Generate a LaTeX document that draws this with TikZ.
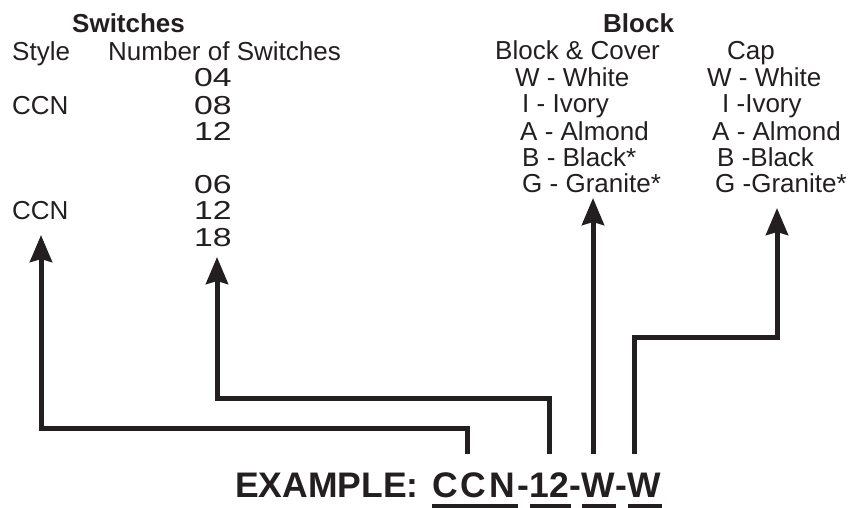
\documentclass[tikz,border=0pt]{standalone}
\usepackage{fontspec}
\setmainfont{Liberation Sans}
\usetikzlibrary{arrows.meta}
\definecolor{ink}{HTML}{231F20}
\newcommand{\wdig}[1]{\scalebox{1.3}[1]{#1}}
\tikzset{
  txt/.style={anchor=base west, inner sep=0pt, text=ink, font=\fontsize{26}{26}\selectfont},
  head/.style={txt, font=\fontsize{26}{26}\selectfont\bfseries},
  ex/.style={anchor=base west, inner sep=0pt, text=ink, font=\fontsize{35.5}{35.5}\selectfont\bfseries},
  conn/.style={draw=ink, line width=5pt, line join=miter, -{Stealth[length=27pt,width=22pt,inset=3pt]}},
  ul/.style={draw=ink, line width=4pt}
}
\begin{document}
\begin{tikzpicture}[x=1pt,y=-1pt]
\useasboundingbox (0,0) rectangle (848,508);
% left block
\node[head] (hsw) at (72,33) {Switches};
\node[txt] (hstyle) at (12,61) {Style};
\node[txt] (hnum) at (108,61) {Number of Switches};
\node[txt] (n04) at (194,87) {\wdig{04}};
\node[txt] (ccna) at (12,114) {CCN};
\node[txt] (n08) at (194,114) {\wdig{08}};
\node[txt] (n12a) at (194,140) {\wdig{12}};
\node[txt] (n06) at (194,193) {\wdig{06}};
\node[txt] (ccnb) at (12,219) {CCN};
\node[txt] (n12b) at (194,219) {\wdig{12}};
\node[txt] (n18) at (194,246) {\wdig{18}};
% right block
\node[head] (hblock) at (603,33) {Block};
\node[txt] (hbc) at (495,60) {Block \& Cover};
\node[txt] (hcap) at (727,60) {Cap};
\node[txt] (bw) at (515,87) {W - White};
\node[txt] (bi) at (522,113) {I - Ivory};
\node[txt] (ba) at (520,140) {A - Almond};
\node[txt] (bb) at (522,166) {B - Black*};
\node[txt] (bg) at (522,192) {G - Granite*};
\node[txt] (cw) at (707,87) {W - White};
\node[txt] (ci) at (722,113) {I -Ivory};
\node[txt] (ca) at (712,140) {A - Almond};
\node[txt] (cb) at (717,166) {B -Black};
\node[txt] (cg) at (715,192) {G -Granite*};
% example
\node[ex] (exl) at (235,497) {EXAMPLE:};
\node[ex] (eccn) at (432,497) {C\hspace{3pt}C\hspace{3pt}N};
\node[ex] (eh1) at (eccn.base east) [xshift=2pt] {-};
\node[ex] (e12) at (eh1.base east) {12};
\node[ex] (eh2) at (e12.base east) {-};
\node[ex] (ew1) at (eh2.base east) {W};
\node[ex] (eh3) at (ew1.base east) {-};
\node[ex] (ew2) at (eh3.base east) {W};
\draw[ul] ([yshift=-9pt]eccn.base west) -- ([xshift=3pt,yshift=-9pt]eccn.base east);
\draw[ul] ([yshift=-9pt]e12.base west) -- ([xshift=2pt,yshift=-9pt]e12.base east);
\draw[ul] ([yshift=-9pt]ew1.base west) -- ([yshift=-9pt]ew1.base east);
\draw[ul] ([yshift=-9pt]ew2.base west) -- ([yshift=-9pt]ew2.base east);
% connector ends
\coordinate (s1) at (467,454);
\coordinate (s2) at (549,454);
\coordinate (s3) at (593,454);
\coordinate (s4) at (634,454);
\coordinate (t1) at (41,235);
\coordinate (t2) at (217,257);
\coordinate (t3) at (593,198);
\coordinate (t4) at (777,208);
\draw[conn] (s1) -- (467,428) -- (41,428) -- (t1);
\draw[conn] (s2) -- (549,398) -- (217,398) -- (t2);
\draw[conn] (s3) -- (t3);
\draw[conn] (s4) -- (634,337) -- (777,337) -- (t4);
\end{tikzpicture}
\end{document}
